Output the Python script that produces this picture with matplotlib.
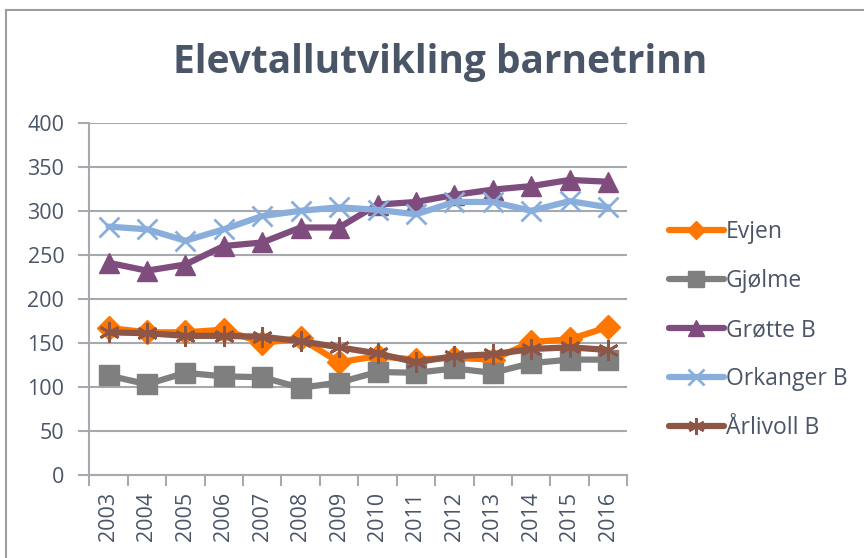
import matplotlib

matplotlib.use("Agg")
import matplotlib.pyplot as plt
from matplotlib.lines import Line2D

plt.rcParams["font.family"] = ["Open Sans", "DejaVu Sans"]

years = [str(y) for y in range(2003, 2017)]
evjen = [167, 162, 162, 165, 150, 155, 128, 135, 131, 133, 131, 151, 154, 168]
gjolme = [113, 103, 116, 112, 111, 99, 105, 117, 116, 121, 116, 127, 131, 131]
grotte = [241, 232, 239, 260, 264, 281, 281, 307, 310, 318, 324, 328, 335, 333]
orkanger = [282, 279, 266, 279, 294, 300, 304, 301, 296, 310, 310, 300, 311, 304]
arlivoll = [162, 161, 158, 158, 157, 152, 145, 138, 128, 135, 137, 143, 145, 142]

series = [
    ("Evjen", evjen, "#FF7700", "D", 12),
    ("Gjølme", gjolme, "#7F7F7F", "s", 14),
    ("Grøtte B", grotte, "#7F4C7E", "^", 15),
    ("Orkanger B", orkanger, "#8AAEDC", "x", 14),
    ("Årlivoll B", arlivoll, "#8E5646", (6, 2, 0), 15),
]

text_color = "#4A5568"
grid_color = "#A6A9AD"

fig = plt.figure(figsize=(8.64, 5.58), dpi=100)
ax = fig.add_axes([89.3 / 864, 1 - 475 / 558, (627.3 - 89.3) / 864, (475 - 122.7) / 558])

x = list(range(len(years)))
for name, vals, color, marker, ms in series:
    ax.plot(x, vals, color=color, lw=4.5, marker=marker, ms=ms,
            mew=2 if marker in ("x", (6, 2, 0)) else 1, mec=color, mfc=color,
            label=name, solid_capstyle="round", solid_joinstyle="round")

ax.set_xlim(-0.5, len(years) - 0.5)
ax.set_ylim(0, 400)
ax.set_yticks(range(0, 401, 50))
ax.yaxis.grid(True, color=grid_color, lw=1.5)
ax.set_axisbelow(True)
ax.set_xticks([i - 0.5 for i in range(len(years) + 1)], minor=False)
ax.set_xticklabels([])
ax.set_xticks(x, minor=True)
ax.set_xticklabels(years, minor=True, rotation=90, fontsize=15.5, color=text_color)
ax.tick_params(axis="x", which="major", length=8, width=1.5, color=grid_color, direction="out")
ax.tick_params(axis="x", which="minor", length=0, pad=12)
ax.tick_params(axis="y", length=8, width=1.5, color=grid_color, labelsize=15.5,
               labelcolor=text_color, pad=10)
for side in ("top", "right"):
    ax.spines[side].set_visible(False)
for side in ("left", "bottom"):
    ax.spines[side].set_color(grid_color)
    ax.spines[side].set_linewidth(1.5)

fig.text(0.509, 1 - 62 / 558, "Elevtallutvikling barnetrinn", ha="center", va="center",
         fontsize=28, fontweight="bold", color=text_color)

leg = ax.legend(loc="upper left", bbox_to_anchor=(648 / 864, 1 - 199 / 558),
                bbox_transform=fig.transFigure, frameon=False, fontsize=16.5,
                handlelength=2.4, handletextpad=0.1, labelspacing=1.1,
                labelcolor=text_color, markerscale=0.8)

# chart border
fig.add_artist(Line2D([6 / 864, 6 / 864], [0, 1 - 10 / 558], color="#9A9DA1", lw=1.5))
fig.add_artist(Line2D([6 / 864, 1], [1 - 10 / 558, 1 - 10 / 558], color="#9A9DA1", lw=1.5))

fig.savefig("out.png", dpi=100)
